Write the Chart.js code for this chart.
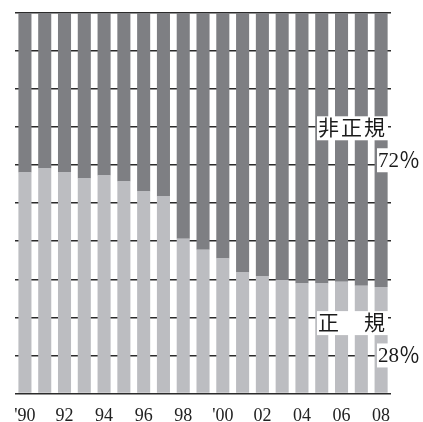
<!DOCTYPE html>
<html>
<head>
<meta charset="utf-8">
<script src="https://cdn.jsdelivr.net/npm/chart.js@4/dist/chart.umd.min.js"></script>
<style>
  html, body { margin: 0; padding: 0; background: #fff; }
  #wrap { width: 423px; height: 422px; position: relative; }
</style>
</head>
<body>
<div id="wrap"><canvas id="c"></canvas></div>
<script>
// Share of employment, 1990–2008 (percent of total)
const years = ["'90", "91", "92", "93", "94", "95", "96", "97", "98", "99",
               "'00", "01", "02", "03", "04", "05", "06", "07", "08"];
const tickLabels = ["'90", "", "92", "", "94", "", "96", "", "98", "",
                    "'00", "", "02", "", "04", "", "06", "", "08"];
const seriesNames = ["正\u3000規", "非正規"];
const regular    = [58.1, 59.1, 58.1, 56.5, 57.3, 55.7, 53.1, 51.8, 40.7, 37.8,
                    35.5, 31.8, 30.9, 29.9, 28.9, 28.9, 29.4, 28.3, 28];
const nonRegular = [41.9, 40.9, 41.9, 43.5, 42.7, 44.3, 46.9, 48.2, 59.3, 62.2,
                    64.5, 68.2, 69.1, 70.1, 71.1, 71.1, 70.6, 71.7, 72];

const SERIF = "'Liberation Serif', 'DejaVu Serif', 'Noto Sans CJK JP', serif";

// Series name and latest share, boxed in white at the right edge
const endLabels = {
  id: 'endLabels',
  afterDatasetsDraw(chart) {
    const { ctx, chartArea, scales } = chart;
    const y = scales.y;
    const last = years.length - 1;
    const items = [
      { text: seriesNames[1], x: chartArea.right - 73, v: 69.7, sp: 2 },
      { text: nonRegular[last] + '\uFF05', x: chartArea.right - 13, v: 61.3, sp: 0 },
      { text: seriesNames[0], x: chartArea.right - 73, v: 18.5, sp: 2 },
      { text: regular[last] + '\uFF05', x: chartArea.right - 13, v: 10.0, sp: 0 }
    ];
    ctx.save();
    ctx.font = '21px ' + SERIF;
    ctx.textBaseline = 'middle';
    ctx.textAlign = 'left';
    items.forEach(it => {
      const cy = y.getPixelForValue(it.v);
      ctx.letterSpacing = it.sp + 'px';
      const w = ctx.measureText(it.text).width;
      ctx.fillStyle = '#ffffff';
      ctx.fillRect(it.x - 1, cy - 12, w + 2, 24);
      ctx.fillStyle = '#1a1a1a';
      ctx.fillText(it.text, it.x, cy + 1);
    });
    ctx.restore();
  }
};

new Chart(document.getElementById('c'), {
  type: 'bar',
  data: {
    labels: years,
    datasets: [
      { label: seriesNames[0], data: regular, backgroundColor: '#bcbdc1',
        barPercentage: 0.66, categoryPercentage: 1.0 },
      { label: seriesNames[1], data: nonRegular, backgroundColor: '#7e7f83',
        barPercentage: 0.66, categoryPercentage: 1.0 }
    ]
  },
  options: {
    responsive: true,
    maintainAspectRatio: false,
    animation: false,
    layout: { padding: { left: 12, right: 32, top: 13, bottom: 0 } },
    plugins: { legend: { display: false }, tooltip: { enabled: false } },
    scales: {
      x: {
        stacked: true,
        grid: { display: false, drawTicks: false },
        border: { display: false },
        afterFit: (scale) => { scale.height = 28.5; },
        ticks: {
          autoSkip: false, maxRotation: 0, padding: 14,
          color: '#222',
          font: { family: SERIF, size: 18, lineHeight: 1 },
          callback: (v, i) => tickLabels[i]
        }
      },
      y: {
        stacked: true,
        min: 0, max: 100,
        ticks: { display: false, stepSize: 10 },
        grid: { color: '#2b2b2b', lineWidth: 1.6, drawTicks: false },
        border: { display: false }
      }
    }
  },
  plugins: [endLabels]
});
</script>
</body>
</html>
